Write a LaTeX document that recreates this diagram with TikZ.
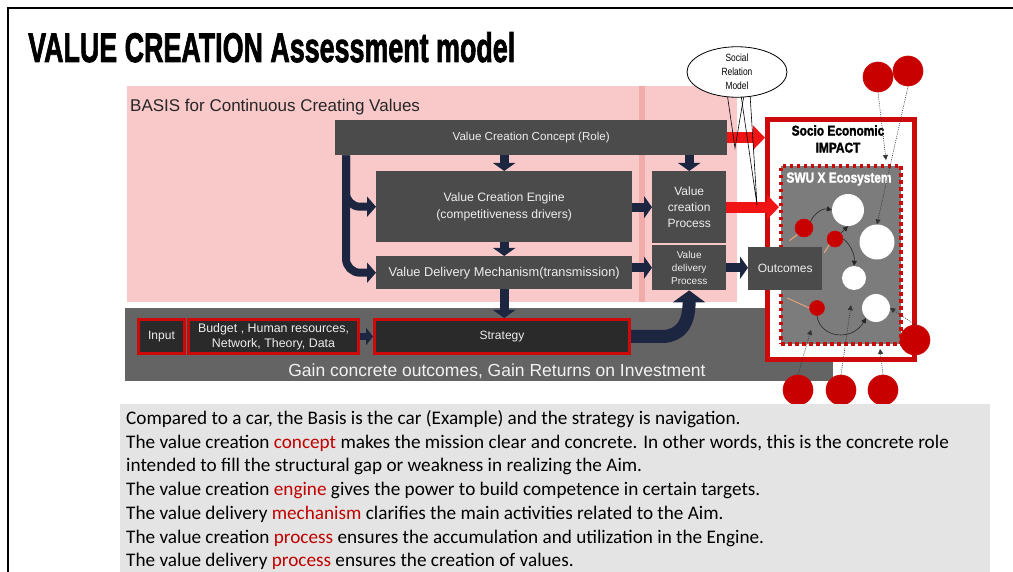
\documentclass[tikz,border=0pt]{standalone}
\usepackage{fontspec}
\setmainfont{Liberation Sans}
\newfontfamily\bodyfont{Carlito}
\newfontfamily\heavyfont[FakeBold=2.2]{Liberation Sans Bold}
\usetikzlibrary{arrows.meta,shapes.geometric,calc}
\definecolor{pinkbg}{HTML}{F9C9C9}
\definecolor{pinkstrip}{HTML}{F2ABAB}
\definecolor{darkbox}{HTML}{4B4B4B}
\definecolor{navy}{HTML}{1C2640}
\definecolor{bandgray}{HTML}{646464}
\definecolor{redc}{HTML}{CC0A0A}
\definecolor{arrowred}{HTML}{F01414}
\definecolor{ecogray}{HTML}{7C7C7C}
\definecolor{textbg}{HTML}{E4E4E4}
\definecolor{wordred}{HTML}{C00000}
\definecolor{boxtext}{HTML}{EEEEEE}
\definecolor{blackbox}{HTML}{2A2A2A}
\definecolor{ballred}{HTML}{C80000}
\definecolor{faintorange}{HTML}{E0A07A}
\begin{document}
\begin{tikzpicture}[x=1pt,y=-1pt,
  darkbox/.style={fill=darkbox, text=boxtext, inner sep=0pt, align=center, anchor=north west, font=\fontsize{11}{14}\selectfont},
  redbox/.style={fill=blackbox, draw=redc, line width=3pt, text=boxtext, inner sep=0pt, align=center, anchor=north west, font=\fontsize{12}{14}\selectfont},
  navyarrow/.style={draw=navy, line width=9pt, -{Triangle[width=22pt,length=8pt]}},
  redarrow/.style={draw=arrowred, line width=11pt, -{Triangle[width=24pt,length=12pt]}},
  whiteball/.style={circle, fill=white, inner sep=0pt},
  redball/.style={circle, fill=ballred, draw=redc, line width=0.6pt, inner sep=0pt},
  thinarr/.style={draw=black!85, line width=0.6pt, -{Triangle[width=5pt,length=5pt]}},
  dotarr/.style={draw=black!80, line width=0.6pt, dash pattern=on 1pt off 1.2pt, -{Triangle[width=5pt,length=5pt]}},
  bodyline/.style={anchor=base west, inner sep=0pt, font=\bodyfont\fontsize{19.2}{24}\selectfont}]
\useasboundingbox (0,0) rectangle (1013,572);
% frame
\draw[line width=1.6pt] (8,572) -- (8,8) -- (1013,8);
% title
\node[anchor=base west, inner sep=0pt] (title) at (28,62) {\resizebox{487pt}{30pt}{\heavyfont VALUE CREATION Assessment model}};
% pink basis
\fill[pinkbg] (127,86) rectangle (737,302);
\fill[pinkstrip] (639,86) rectangle (645,302);
\node[anchor=base west, inner sep=0pt, font=\fontsize{17}{20}\selectfont, text=black!85] (basis) at (130,112) {BASIS for Continuous Creating Values};
% bottom band
\fill[bandgray] (125,308) rectangle (833,381);
\node[anchor=base, inner sep=0pt, font=\fontsize{17.5}{20}\selectfont, text=white!95!black] (gain) at (497,376) {Gain concrete outcomes, Gain Returns on Investment};
% boxes
\node[darkbox, minimum width=392, minimum height=35, font=\fontsize{11.6}{14}\selectfont] (cc) at (335,120) {Value Creation Concept (Role)};
\node[darkbox, minimum width=256, minimum height=71, font=\fontsize{12.2}{17}\selectfont] (eng) at (376,171) {Value Creation Engine\\(competitiveness drivers)};
\node[darkbox, minimum width=256, minimum height=33, font=\fontsize{12.8}{14}\selectfont] (dm) at (376,256) {Value Delivery Mechanism(transmission)};
\node[darkbox, minimum width=74, minimum height=72, font=\fontsize{12}{16}\selectfont] (vcp) at (652,171) {Value\\creation\\Process};
\node[darkbox, minimum width=74, minimum height=45, font=\fontsize{10}{13}\selectfont] (vdp) at (652,245) {Value\\delivery\\Process};
% input row
\node[redbox, minimum width=46, minimum height=34, font=\fontsize{12}{13}\selectfont] (inp) at (137,318) {Input};
\node[redbox, minimum width=170, minimum height=34, font=\fontsize{12.4}{15}\selectfont] (bud) at (187,318) {Budget , Human resources,\\Network, Theory, Data};
\node[redbox, minimum width=255, minimum height=34] (strat) at (373,318) {Strategy};
% navy arrows
\draw[navyarrow] (eng.north |- cc.south) -- (eng.north);
\draw[navyarrow] (eng.south) -- (dm.north);
\draw[navyarrow] (dm.south) -- (dm.south |- strat.north);
\draw[navyarrow] (vcp.north |- cc.south) -- (vcp.north);
\draw[navyarrow] (eng.east |- vcp.west) -- (vcp.west);
\draw[navyarrow] (dm.east |- vdp.west) -- (vdp.west);
\draw[navyarrow, line width=7pt, -{Triangle[width=17pt,length=7pt]}] (bud.east) -- (strat.west);
\draw[draw=navy, line width=8pt, rounded corners=14pt, -{Triangle[width=20pt,length=9pt]}] ([xshift=11pt]cc.south west) |- (dm.west);
\draw[draw=navy, line width=8pt, rounded corners=14pt, -{Triangle[width=20pt,length=9pt]}] ([xshift=11pt]cc.south west) |- (eng.west);
\draw[draw=navy, line width=13pt, -{Triangle[width=32pt,length=12pt]}] (strat.east) -- ($(strat.east)+(33,0)$) .. controls (680,335) and (689,325) .. (vdp.south);
% socio box
\node[draw=redc, fill=white, line width=5pt, minimum width=147, minimum height=240, inner sep=0pt, anchor=north west] (soc) at (765,117) {};
\node[inner sep=0pt, align=center, font=\heavyfont\fontsize{14}{17}\selectfont] (soctxt) at (838,139) {\scalebox{0.85}[1]{Socio Economic}\\\scalebox{0.85}[1]{IMPACT}};
\node[fill=ecogray, draw=redc, line width=4pt, dash pattern=on 3.5pt off 3.5pt, minimum width=120, minimum height=178, inner sep=0pt, anchor=north west] (swu) at (779,164) {};
\node[inner sep=0pt, text=white, font=\heavyfont\fontsize{14.5}{16}\selectfont] (swutxt) at (839,179) {\scalebox{0.82}[1]{SWU X Ecosystem}};
% outcomes
\node[darkbox, minimum width=74, minimum height=43, font=\fontsize{12}{14}\selectfont] (out) at (748,247) {Outcomes};
\draw[navyarrow] (vdp.east) -- (vdp.east -| out.west);
% red arrows
\draw[redarrow] (cc.east) -- (cc.east -| soc.west);
\draw[redarrow] (vcp.east) -- (vcp.east -| swu.west);
% ecosystem balls
\node[whiteball, minimum size=32pt] (w1) at (848,210) {};
\node[whiteball, minimum size=35pt] (w2) at (877,242) {};
\node[whiteball, minimum size=24pt] (w3) at (854,278) {};
\node[whiteball, minimum size=28pt] (w4) at (876,308) {};
\node[redball, minimum size=18pt] (r1) at (804,228) {};
\node[redball, minimum size=16pt] (r2) at (835,239) {};
\node[redball, minimum size=15pt] (r3) at (817,308) {};
\draw[faintorange, line width=1.2pt] (r1.south west) -- ++(-8,6);
\draw[faintorange, line width=1.2pt] (r2.south west) -- ++(-5,8);
\draw[faintorange, line width=1pt] (r3.west) -- ++(-22,-10);
\draw[thinarr] (r1.north east) .. controls (815,212) and (824,208) .. (w1.west);
\draw[thinarr] (r2.north east) -- (w1.south);
\draw[thinarr] (r2.east) .. controls (850,244) and (855,254) .. (w3.north);
\draw[thinarr] (r3.south) .. controls (820,338) and (852,342) .. (w4.south west);
% outside balls
\node[redball, minimum size=30pt] (t1) at (878,77) {};
\node[redball, minimum size=30pt] (t2) at (908,71) {};
\node[redball, minimum size=30pt] (rc) at (915,340) {};
\node[redball, minimum size=30pt] (b1) at (798,390) {};
\node[redball, minimum size=30pt] (b2) at (841,390) {};
\node[redball, minimum size=30pt] (b3) at (883,390) {};
\draw[dotarr] (t1.south) -- ($(swu.north west)+(107,-4)$);
\draw[dotarr] (t2.south) -- (w2.north);
\draw[dotarr] (b1.north) -- ($(r3.south)+(-6,14)$);
\draw[dotarr] (b2.north) -- ($(w3.south)+(-3,15)$);
\draw[dotarr] (b3.north) -- ($(b3.north |- swu.south)+(-3,3)$);
\draw[dotarr] (rc.north) -- (w4.east);
% social relation model callout
\coordinate (tip1) at (735,148);
\coordinate (tip2) at (757,205);
\draw[line width=0.6pt] (727,93) -- (tip1) -- (744,95);
\draw[line width=0.6pt] (741,95) -- (tip2) -- (750,94);
\node[ellipse, draw, fill=white, line width=0.8pt, minimum width=100pt, minimum height=50pt, inner sep=0pt, align=center, font=\fontsize{10.5}{14}\selectfont] (srm) at (737,72) {\scalebox{0.8}[1]{Social}\\\scalebox{0.8}[1]{Relation}\\\scalebox{0.8}[1]{Model}};
% bottom text
\node[fill=textbg, minimum width=870, minimum height=170, inner sep=0pt, anchor=north west] (tb) at (120,404) {};
\node[bodyline] (l1) at (126,424) {Compared to a car, the Basis is the car (Example) and the strategy is navigation.};
\node[bodyline] (l2) at (126,448) {The value creation \textcolor{wordred}{concept} makes the mission clear and concrete. In other words, this is the concrete role};
\node[bodyline] (l3) at (126,471.5) {intended to fill the structural gap or weakness in realizing the Aim.};
\node[bodyline] (l4) at (126,495.5) {The value creation \textcolor{wordred}{engine} gives the power to build competence in certain targets.};
\node[bodyline] (l5) at (126,519) {The value delivery \textcolor{wordred}{mechanism} clarifies the main activities related to the Aim.};
\node[bodyline] (l6) at (126,543) {The value creation \textcolor{wordred}{process} ensures the accumulation and utilization in the Engine.};
\node[bodyline] (l7) at (126,566.5) {The value delivery \textcolor{wordred}{process} ensures the creation of values.};
\end{tikzpicture}
\end{document}
